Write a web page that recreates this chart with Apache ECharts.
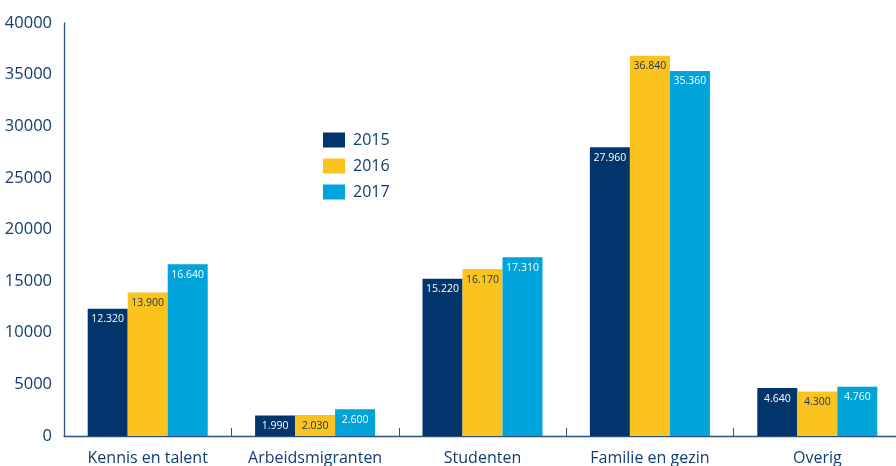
<!DOCTYPE html>
<html>
<head>
<meta charset="utf-8">
<script src="https://cdn.jsdelivr.net/npm/echarts@6/dist/echarts.min.js"></script>
<style>
html,body{margin:0;padding:0;background:#fff;}
#chart{width:896px;height:466px;}
</style>
</head>
<body>
<div id="chart"></div>
<script>
var categories = ['Kennis en talent', 'Arbeidsmigranten', 'Studenten', 'Familie en gezin', 'Overig'];
var seriesNames = ['2015', '2016', '2017'];
var values2015 = [12320, 1990, 15220, 27960, 4640];
var values2016 = [13900, 2030, 16170, 36840, 4300];
var values2017 = [16640, 2600, 17310, 35360, 4760];
var yTicks = [0, 5000, 10000, 15000, 20000, 25000, 30000, 35000, 40000];

var colors = ['#01356b', '#fbc31e', '#00a3da'];
var labelColors = ['#ffffff', '#1d3350', '#ffffff'];
var textColor = '#123d6e';
var fontFam = '"Open Sans", "Noto Sans", sans-serif';

function fmt(v) {
  return String(v).replace(/\B(?=(\d{3})+(?!\d))/g, '.');
}

var allValues = [values2015, values2016, values2017];
var series = seriesNames.map(function (name, i) {
  return {
    name: name,
    type: 'bar',
    data: allValues[i],
    barWidth: 40,
    barGap: '0%',
    itemStyle: { color: colors[i] },
    label: {
      show: true,
      position: 'insideTop',
      distance: 5,
      color: labelColors[i],
      fontSize: 10.5,
      fontFamily: fontFam,
      formatter: function (p) { return fmt(p.value); }
    }
  };
});

var chart = echarts.init(document.getElementById('chart'), null, { renderer: 'canvas' });
chart.setOption({
  animation: false,
  backgroundColor: '#ffffff',
  color: colors,
  legend: {
    orient: 'vertical',
    left: 323,
    top: 132,
    padding: 0,
    itemWidth: 22,
    itemHeight: 15,
    itemGap: 10,
    icon: 'rect',
    textStyle: { color: textColor, fontSize: 16, fontFamily: fontFam, padding: [0, 0, 0, 3] },
    data: seriesNames
  },
  grid: {
    left: 64,
    top: 23,
    bottom: 30,
    width: 837,
    containLabel: false,
    outerBoundsMode: 'none'
  },
  xAxis: {
    type: 'category',
    data: categories,
    axisLine: { show: true, lineStyle: { color: '#2a5282', width: 1.3 } },
    axisTick: { show: true, inside: true, length: 8, lineStyle: { color: '#2a5282' } },
    axisLabel: { color: textColor, fontSize: 16, fontFamily: fontFam, margin: 14, interval: 0 },
    splitLine: { show: false }
  },
  yAxis: {
    type: 'value',
    min: yTicks[0],
    max: yTicks[yTicks.length - 1],
    interval: yTicks[1] - yTicks[0],
    axisLine: { show: true, lineStyle: { color: '#2a5282', width: 1.3 } },
    axisTick: { show: false },
    splitLine: { show: false },
    axisLabel: {
      color: textColor, fontSize: 16.5, fontWeight: 500, fontFamily: fontFam, margin: 12,
      formatter: function (v) { return String(v); }
    }
  },
  series: series
});
</script>
</body>
</html>
